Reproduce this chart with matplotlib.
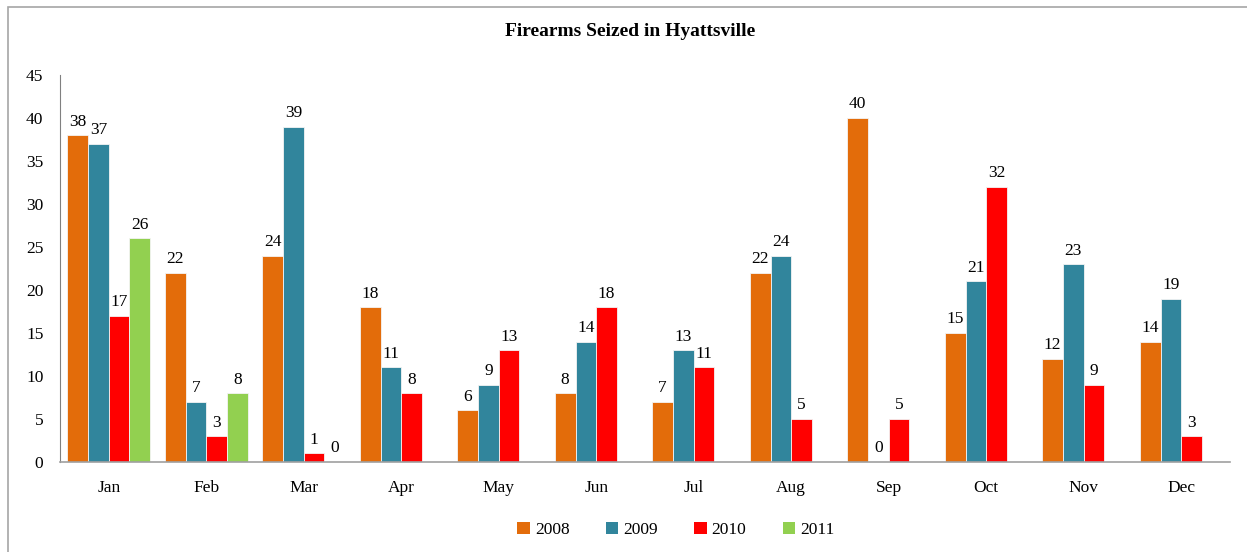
import numpy as np
import matplotlib
matplotlib.use('Agg')
from matplotlib import pyplot
from matplotlib.patches import Rectangle

# Daten
monate = ['Jan', 'Feb', 'Mar', 'Apr', 'May', 'Jun', 'Jul', 'Aug', 'Sep', 'Oct', 'Nov', 'Dec']
jahre = ['2008', '2009', '2010', '2011']
werte_2008 = [38, 22, 24, 18, 6, 8, 7, 22, 40, 15, 12, 14]
werte_2009 = [37, 7, 39, 11, 9, 14, 13, 24, 0, 21, 23, 19]
werte_2010 = [17, 3, 1, 8, 13, 18, 11, 5, 5, 32, 9, 3]
werte_2011 = [26, 8, 0, None, None, None, None, None, None, None, None, None]
farben = ['#E36C0A', '#31859C', '#FF0000', '#92D050']

pyplot.rcParams['font.family'] = ['Liberation Serif', 'DejaVu Serif']
schrift = 12.5

fig = pyplot.figure(figsize=(12.47, 5.52), dpi=100)
ax = fig.add_axes([60/1247, 90/552, 1170/1247, 387/552])

# Rahmen um die Grafik (nur links/oben sichtbar)
fig.patches.append(Rectangle((8/1247, -0.1), 1.2, (552-7)/552 + 0.1, transform=fig.transFigure,
                             fill=False, edgecolor='#a6a6a6', linewidth=1.2))

x = np.arange(len(monate))
breite = 0.2128
for idx, (jahr, werte) in enumerate(zip(jahre, [werte_2008, werte_2009, werte_2010, werte_2011])):
   pos = x + (idx - 1.5)*breite
   for xp, w in zip(pos, werte):
      if (w is None):
         continue
      ax.bar(xp, w, width=breite, color=farben[idx], edgecolor='#f4f4f4', linewidth=0.6)
      ax.annotate(str(w), (xp, w), xytext=(0, 4), textcoords='offset points',
                  ha='center', va='bottom', fontsize=schrift)
   # nur fuer die Legende
   ax.bar([0], [0], width=0, color=farben[idx], label=jahr)

ax.set_xlim(-0.5, len(monate) - 0.5)
ax.set_ylim(0, 45)
ax.set_yticks(range(0, 46, 5))
ax.set_xticks(x)
ax.set_xticklabels(monate)
ax.tick_params(axis='both', length=0, labelsize=schrift)
ax.tick_params(axis='x', pad=13)
ax.tick_params(axis='y', pad=12)
for seite in ['top', 'right']:
   ax.spines[seite].set_visible(False)
ax.spines['bottom'].set_color('#a0a0a0')
ax.spines['bottom'].set_linewidth(1.2)
ax.spines['left'].set_color('#808080')
ax.spines['left'].set_linewidth(0.8)

fig.text(0.505, 1 - 32/552, 'Firearms Seized in Hyattsville', ha='center', va='center',
         fontsize=14, fontweight='bold')

fig.legend(loc='center', bbox_to_anchor=(676/1247, 1 - 530/552), ncol=4, frameon=False,
           fontsize=schrift, handlelength=0.7, handleheight=0.7, handletextpad=0.3,
           columnspacing=2.1)

fig.savefig('out.png', dpi=100)
